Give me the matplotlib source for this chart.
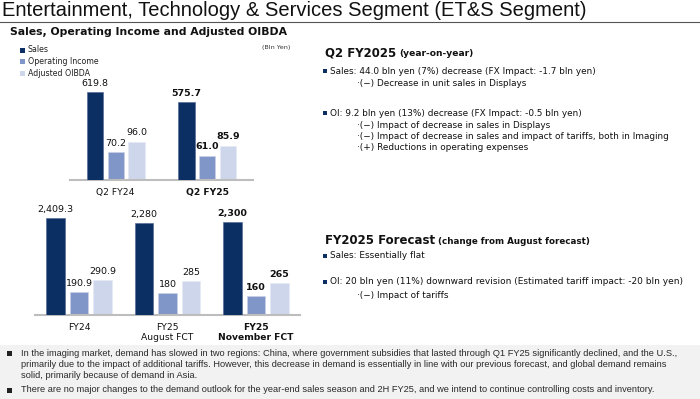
import matplotlib
matplotlib.use("Agg")
import matplotlib.pyplot as plt
from matplotlib.patches import Rectangle

W, H = 700, 399

# ---- data ----
q_categories = ["Q2 FY24", "Q2 FY25"]
q_sales = [619.8, 575.7]
q_oi = [70.2, 61.0]
q_oibda = [96.0, 85.9]
q_sales_labels = ["619.8", "575.7"]
q_oi_labels = ["70.2", "61.0"]
q_oibda_labels = ["96.0", "85.9"]

fy_categories = ["FY24", "FY25\nAugust FCT", "FY25\nNovember FCT"]
fy_sales = [2409.3, 2280, 2300]
fy_oi = [190.9, 180, 160]
fy_oibda = [290.9, 285, 265]
fy_sales_labels = ["2,409.3", "2,280", "2,300"]
fy_oi_labels = ["190.9", "180", "160"]
fy_oibda_labels = ["290.9", "285", "265"]

series_names = ["Sales", "Operating Income", "Adjusted OIBDA"]
C_SALES = "#0b2f62"
C_OI = "#8196c8"
C_OIBDA = "#cdd6ea"

FONT = "DejaVu Sans"
plt.rcParams["font.family"] = [FONT]

fig = plt.figure(figsize=(W / 100, H / 100), dpi=100)


def fx(x):
    return x / W


def fy(y):
    return 1 - y / H


def axes_px(left, top, right, bottom):
    return fig.add_axes([fx(left), fy(bottom), (right - left) / W, (bottom - top) / H])


# background for bottom notes
fig.patches.append(Rectangle((0, 0), 1, fy(345), transform=fig.transFigure,
                             facecolor="#f2f2f2", edgecolor="none", zorder=0))

# title
fig.text(fx(2), fy(11), "Entertainment, Technology & Services Segment (ET&S Segment)",
         fontsize=14.5, family="Liberation Sans", va="center", ha="left", color="#111111")
fig.add_artist(plt.Line2D([0, 1], [fy(22), fy(22)], transform=fig.transFigure,
                          color="#555555", lw=0.8))
fig.text(fx(10), fy(32), "Sales, Operating Income and Adjusted OIBDA",
         fontsize=7.8, fontweight="bold", va="center", ha="left", color="#111111")

# legend
for i, (nm, c) in enumerate(zip(series_names, [C_SALES, C_OI, C_OIBDA])):
    y = 50 + i * 11.5
    fig.patches.append(Rectangle((fx(20), fy(y + 2.5)), 5 / W, 5 / H, transform=fig.transFigure,
                                 facecolor=c, edgecolor="none"))
    fig.text(fx(28), fy(y), nm, fontsize=5.7, va="center", ha="left", color="#222222")
fig.text(fx(262), fy(48), "(Bln Yen)", fontsize=4.6, va="center", ha="left", color="#333333")


def draw_panel(ax, cats, sales, oi, oibda, sl, ol, bl, off, width, sales_lim, other_lim, bold_last, lblsize):
    ax2 = ax.twinx()
    n = len(cats)
    xs = list(range(n))
    ax.bar([x for x in xs], oi, width, color=C_OI, edgecolor="#c8d0e6", linewidth=0.5, zorder=2)
    ax.bar([x + off for x in xs], oibda, width, color=C_OIBDA, edgecolor="#e4e9f4", linewidth=0.5, zorder=2)
    ax2.bar([x - off for x in xs], sales, width, color=C_SALES, edgecolor="#5a6f9a", linewidth=0.5, zorder=2)
    ax.set_ylim(0, other_lim)
    ax2.set_ylim(sales_lim)
    for a in (ax, ax2):
        a.set_xlim(-0.5, n - 0.5)
        a.set_yticks([])
        for s in ["top", "left", "right"]:
            a.spines[s].set_visible(False)
        a.patch.set_alpha(0)
    ax2.spines["bottom"].set_visible(False)
    ax.spines["bottom"].set_color("#bdbdbd")
    ax.spines["bottom"].set_linewidth(1.5)
    ax.set_xticks(xs)
    ax.set_xticklabels(cats, fontsize=6.6, color="#111111", linespacing=1.15)
    ax.tick_params(axis="x", length=0, pad=6)
    if bold_last:
        ax.get_xticklabels()[-1].set_fontweight("bold")
    for i in xs:
        fw = "bold" if (bold_last and i == n - 1) else "normal"
        ax2.annotate(sl[i], (i - off, sales[i]), xytext=(0, 3), textcoords="offset points",
                     ha="center", va="bottom", fontsize=lblsize, fontweight=fw, color="#111111")
        ax.annotate(ol[i], (i, oi[i]), xytext=(0, 3), textcoords="offset points",
                    ha="center", va="bottom", fontsize=lblsize, fontweight=fw, color="#111111")
        ax.annotate(bl[i], (i + off, oibda[i]), xytext=(0, 3), textcoords="offset points",
                    ha="center", va="bottom", fontsize=lblsize, fontweight=fw, color="#111111")


ax_top = axes_px(70, 80, 253, 180)
draw_panel(ax_top, q_categories, q_sales, q_oi, q_oibda, q_sales_labels, q_oi_labels, q_oibda_labels,
           off=0.228, width=0.18, sales_lim=(232, 673), other_lim=250, bold_last=True, lblsize=6.8)
ax_bot = axes_px(35, 205, 300, 315)
draw_panel(ax_bot, fy_categories, fy_sales, fy_oi, fy_oibda, fy_sales_labels, fy_oi_labels, fy_oibda_labels,
           off=0.266, width=0.21, sales_lim=(0, 2730), other_lim=917, bold_last=True, lblsize=6.8)

# right-side text
def heading(x, y, big, small, smallsize=6.6):
    t = fig.text(fx(x), fy(y), big, fontsize=8.5, fontweight="bold", va="baseline", ha="left", color="#111111")
    fig.canvas.draw()
    bb = t.get_window_extent()
    fig.text(bb.x1 / W + 3 / W, fy(y), small, fontsize=smallsize, fontweight="bold", va="baseline",
             ha="left", color="#111111")


RS = 6.4


def bullet(x, y, s, size=RS):
    fig.patches.append(Rectangle((fx(x), fy(y + 2)), 4 / W, 4 / H, transform=fig.transFigure,
                                 facecolor=C_SALES, edgecolor="none"))
    fig.text(fx(x + 7), fy(y), s, fontsize=size, va="center", ha="left", color="#111111")


def sub(x, y, s, size=RS):
    fig.text(fx(x), fy(y), s, fontsize=size, va="center", ha="left", color="#111111")


heading(325, 56, "Q2 FY2025", "(year-on-year)")
bullet(323, 71, "Sales: 44.0 bln yen (7%) decrease (FX Impact: -1.7 bln yen)")
sub(357, 84, "·(−) Decrease in unit sales in Displays")
bullet(323, 113, "OI: 9.2 bln yen (13%) decrease (FX Impact: -0.5 bln yen)")
sub(357, 126, "·(−) Impact of decrease in sales in Displays")
sub(357, 136.5, "·(−) Impact of decrease in sales and impact of tariffs, both in Imaging")
sub(357, 147, "·(+) Reductions in operating expenses")

heading(325, 244, "FY2025 Forecast", "(change from August forecast)", smallsize=6.3)
bullet(323, 256, "Sales: Essentially flat")
bullet(323, 282, "OI: 20 bln yen (11%) downward revision (Estimated tariff impact: -20 bln yen)", size=6.5)
sub(357, 295, "·(−) Impact of tariffs")

# bottom notes
notes_size = 6.7
for y in (353, 390):
    fig.patches.append(Rectangle((fx(7), fy(y + 2.5)), 5 / W, 5 / H, transform=fig.transFigure,
                                 facecolor="#222222", edgecolor="none"))
notes_lines = [
    (353, "In the imaging market, demand has slowed in two regions: China, where government subsidies that lasted through Q1 FY25 significantly declined, and the U.S.,"),
    (364.5, "primarily due to the impact of additional tariffs. However, this decrease in demand is essentially in line with our previous forecast, and global demand remains"),
    (376, "solid, primarily because of demand in Asia."),
    (390, "There are no major changes to the demand outlook for the year-end sales season and 2H FY25, and we intend to continue controlling costs and inventory."),
]
for y, s in notes_lines:
    fig.text(fx(21), fy(y), s, fontsize=notes_size, family="Liberation Sans", va="center",
             ha="left", color="#2a2a2a")

fig.savefig("out.png", dpi=100)
